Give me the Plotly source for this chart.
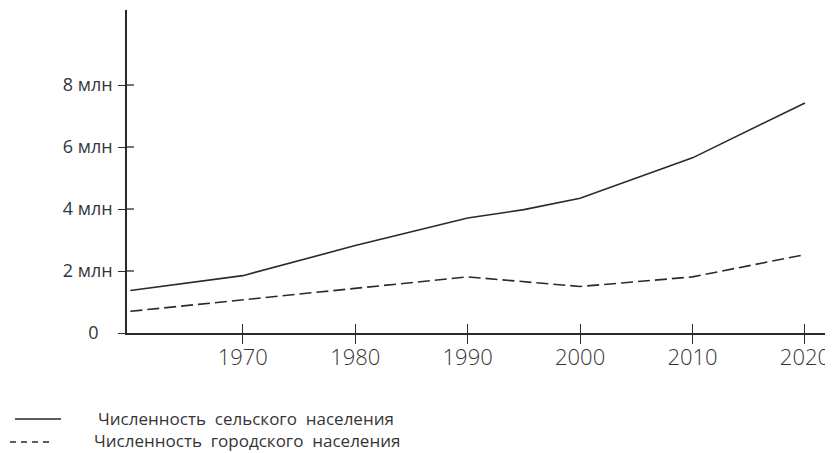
import plotly.graph_objects as go

# ---- data ----
rural_years = [1960, 1970, 1980, 1990, 1995, 2000, 2010, 2020]
rural_values = [1.37, 1.85, 2.82, 3.71, 3.98, 4.35, 5.65, 7.42]  # млн

urban_years = [1960, 1970, 1980, 1990, 2000, 2010, 2020]
urban_values = [0.70, 1.07, 1.43, 1.81, 1.50, 1.81, 2.53]  # млн

x_ticks = [1970, 1980, 1990, 2000, 2010, 2020]
y_ticks = [0, 2, 4, 6, 8]
y_tick_labels = ["0\u00a0\u00a0\u00a0", "2 млн", "4 млн", "6 млн", "8 млн"]

series_names = ["Численность сельского населения", "Численность городского населения"]

# ---- style ----
OFF = 8  # page body margin of the html page
W, H = 833 - OFF, 453 - OFF
ML, MR, MT, MB = 127 - OFF, 6, 10 - OFF, 120
FONT = "Open Sans"
TXT = "#353535"
LINE = "#2a2a2a"
X_RANGE = [1959.7, 2021.96]
Y_RANGE = [0, 10.42]
Y_TICKLEN = 7

fig = go.Figure()
fig.add_trace(go.Scatter(x=rural_years, y=rural_values, mode="lines", name=series_names[0],
                         line=dict(color=LINE, width=1.6), showlegend=False))
fig.add_trace(go.Scatter(x=urban_years, y=urban_values, mode="lines", name=series_names[1],
                         line=dict(color=LINE, width=1.6, dash="12px,5px"), showlegend=False))
# transparent carrier trace so the overlay x axis (inner half of the crossing ticks) is drawn
fig.add_trace(go.Scatter(x=rural_years, y=rural_values, xaxis="x2", yaxis="y", mode="lines",
                         line=dict(width=0, color="rgba(0,0,0,0)"), showlegend=False, hoverinfo="skip"))

axis_common = dict(showgrid=False, zeroline=False, linecolor=LINE, linewidth=1.5,
                   tickcolor=LINE, tickwidth=1.3)

fig.update_layout(
    width=W, height=H,
    margin=dict(l=ML, r=MR, t=MT, b=MB),
    paper_bgcolor="white", plot_bgcolor="white",
    font=dict(family=FONT, color=TXT, weight=300),
    xaxis=dict(range=X_RANGE, tickvals=x_ticks, ticks="outside", ticklen=9,
               showline=True, tickfont=dict(size=22, color=TXT, family=FONT, weight=300),
               ticklabelstandoff=-5, **axis_common),
    xaxis2=dict(range=X_RANGE, overlaying="x", anchor="y", side="bottom", tickvals=x_ticks,
                ticks="inside", ticklen=9, tickcolor=LINE, tickwidth=1.3,
                showticklabels=False, showline=False, showgrid=False, zeroline=False),
    yaxis=dict(range=Y_RANGE, tickvals=y_ticks, ticktext=y_tick_labels, ticks="outside",
               ticklen=Y_TICKLEN, showline=True,
               tickfont=dict(size=18, color=TXT, family=FONT, weight=400),
               ticklabelstandoff=2, **axis_common),
)

# inner half of the crossing y ticks, placed on the y scale
plot_w = W - ML - MR
for v in y_ticks[1:]:
    fig.add_shape(type="line", xref="paper", yref="y", x0=0, x1=Y_TICKLEN / plot_w, y0=v, y1=v,
                  line=dict(color=LINE, width=1.3))

# ---- legend drawn below the plot (page pixel positions) ----
def px_x(p):
    return (p - OFF - ML) / plot_w

def px_y(p):
    return (H - MB - (p - OFF)) / (H - MB - MT)

legend_rows = [
    dict(y=418, x0=15, x1=61, text_x=96, dash="solid"),
    dict(y=441, x0=10, x1=53, text_x=92, dash="6px,5px"),
]
for name, row in zip(series_names, legend_rows):
    fig.add_shape(type="line", xref="paper", yref="paper",
                  x0=px_x(row["x0"]), x1=px_x(row["x1"]), y0=px_y(row["y"] + 1), y1=px_y(row["y"] + 1),
                  line=dict(color=LINE, width=1.4, dash=row["dash"]))
    fig.add_annotation(xref="paper", yref="paper", x=px_x(row["text_x"]), y=px_y(row["y"]),
                       text=name.replace(" ", "\u00a0\u00a0"), showarrow=False, xanchor="left",
                       yanchor="middle",
                       font=dict(size=17, color=TXT, family=FONT, weight=400))

fig.write_html("out.html")
